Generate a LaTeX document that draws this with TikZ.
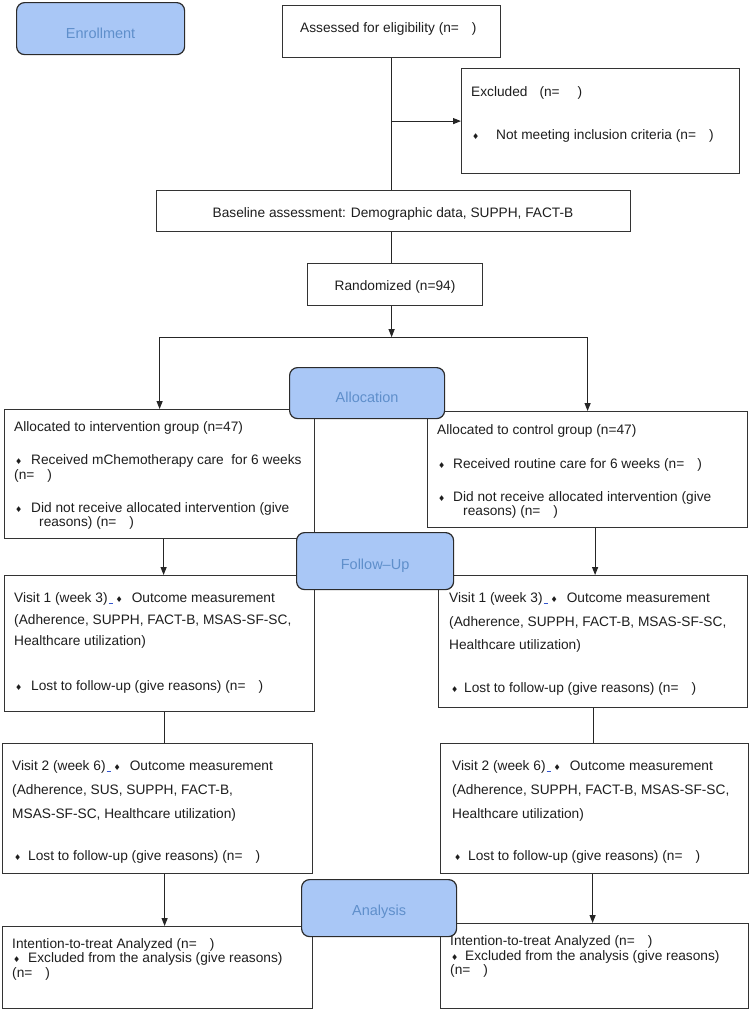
\documentclass[tikz,border=0pt]{standalone}
\usepackage{fontspec}
\setmainfont{Liberation Sans}
\newfontfamily\dejavu{DejaVu Sans}
\usetikzlibrary{arrows.meta}
\definecolor{stagefill}{HTML}{A9C7F6}
\definecolor{stagetext}{HTML}{5F8FCB}
\definecolor{stageline}{HTML}{2B2B2B}
\definecolor{boxline}{HTML}{333333}
\definecolor{linkblue}{HTML}{3355CC}
\definecolor{txtc}{HTML}{1E1E1E}
\newcommand{\bul}{{\dejavu\fontsize{8}{8}\selectfont ♦}}
\newcommand{\gapn}{\hspace{13pt}}
\newcommand{\lnk}{\textcolor{linkblue}{\rule[-2pt]{4pt}{0.7pt}}}
\newcommand{\vmark}{\hspace{1pt}\lnk\hspace{3pt}\bul\hspace{9pt}}
\newcommand{\stagetxt}[2]{\raisebox{-#1}[0pt][0pt]{#2}}
\begin{document}
\begin{tikzpicture}[x=1pt,y=-1pt,
 box/.style={draw=boxline,line width=1.2pt,fill=white,inner sep=0pt,anchor=north west},
 stage/.style={draw=stageline,line width=1.2pt,fill=stagefill,rounded corners=8pt,inner sep=0pt,anchor=north west,text=stagetext,font=\fontsize{14.5}{16}\selectfont},
 txt/.style={anchor=base west,inner sep=0pt,font=\fontsize{13.7}{16}\selectfont,text=txtc},
 ctxt/.style={anchor=base,inner sep=0pt,font=\fontsize{13.7}{16}\selectfont,text=txtc},
 bl/.style={anchor=base west,inner sep=0pt,text=txtc,font=\dejavu\fontsize{8}{8}\selectfont},
 conn/.style={draw=black!85,line width=1.1pt},
 arr/.style={conn,-{Triangle[length=8pt,width=6pt]}},
]
\useasboundingbox (0,0) rectangle (749,1010);
\fill[white] (0,0) rectangle (749,1010);

% boxes
\node[box,minimum width=218pt,minimum height=52pt] (assess) at (282,5) {};
\node[box,minimum width=278pt,minimum height=105pt] (excl) at (461,68) {};
\node[box,minimum width=474pt,minimum height=41pt] (base) at (156,190) {};
\node[box,minimum width=175pt,minimum height=42pt] (rand) at (307,263) {};
\node[box,minimum width=310pt,minimum height=129pt] (int) at (4,409) {};
\node[box,minimum width=320pt,minimum height=116pt] (ctl) at (427,411) {};
\node[box,minimum width=310pt,minimum height=136pt] (v1l) at (4,575) {};
\node[box,minimum width=309pt,minimum height=132pt] (v1r) at (438,575) {};
\node[box,minimum width=310pt,minimum height=130pt] (v2l) at (2,743) {};
\node[box,minimum width=308pt,minimum height=130pt] (v2r) at (440,743) {};
\node[box,minimum width=310pt,minimum height=82pt] (fl) at (2,926) {};
\node[box,minimum width=308pt,minimum height=85pt] (fr) at (440,923) {};

% connectors
\draw[conn] (assess.south) -- (assess.south |- base.north);
\coordinate (j1) at (assess.south |- excl.west);
\draw[arr] (j1) -- (excl.west);
\draw[conn] (assess.south |- base.south) -- (assess.south |- rand.north);
\coordinate (sp) at ([yshift=-31pt]assess.south |- rand.south);
\draw[arr] (assess.south |- rand.south) -- (sp);
\coordinate (spl) at (sp -| int.north);
\coordinate (spr) at (sp -| ctl.north);
\draw[conn] (spl) -- (spr);
\draw[arr] (spl) -- (int.north);
\draw[arr] (spr) -- (ctl.north);
\draw[arr] ([xshift=4pt]int.south) -- ([xshift=4pt]int.south |- v1l.north);
\draw[arr] ([xshift=2pt]v1r.north |- ctl.south) -- ([xshift=2pt]v1r.north);
\draw[conn] ([xshift=5pt]v1l.south) -- ([xshift=5pt]v1l.south |- v2l.north);
\draw[conn] (v1r.south) -- (v1r.south |- v2r.north);
\draw[arr] ([xshift=7pt]v2l.south) -- ([xshift=7pt]v2l.south |- fl.north);
\draw[arr] ([xshift=-2pt]v2r.south) -- ([xshift=-2pt]v2r.south |- fr.north);

% stage labels
\node[stage,minimum width=168pt,minimum height=52pt] (enroll) at (16,2) {\stagetxt{10pt}{Enrollment}};
\node[stage,minimum width=155pt,minimum height=51pt] (alloc) at (289,367) {\stagetxt{9.5pt}{Allocation}};
\node[stage,minimum width=157pt,minimum height=57pt] (follow) at (296,532) {\stagetxt{8pt}{Follow–Up}};
\node[stage,minimum width=155pt,minimum height=57pt] (anal) at (301,879) {\stagetxt{7pt}{Analysis}};

% texts
\node[txt] (ta1) at (300,32) {Assessed for eligibility (n=\gapn)};
\node[txt] (te1) at (471,96) {Excluded\hspace{12pt}(n=\hspace{18pt})};
\node[bl] (be1) at (472,139) {♦};
\node[txt] (te2) at (496,139) {Not meeting inclusion criteria (n=\gapn)};
\node[ctxt] (tb1) at (393,217) {Baseline assessment: Demographic data, SUPPH, FACT-B};
\node[ctxt] (tr1) at (395,290) {Randomized (n=94)};

\node[txt] (ti1) at (14,431) {Allocated to intervention group (n=47)};
\node[bl] (bi1) at (15,464) {♦};
\node[txt] (ti2) at (31,464) {Received mChemotherapy care\ \ for 6 weeks};
\node[txt] (ti3) at (14,479) {(n=\gapn)};
\node[bl] (bi2) at (15,512) {♦};
\node[txt] (ti4) at (31,512) {Did not receive allocated intervention (give};
\node[txt] (ti5) at (39,526) {reasons) (n=\gapn)};

\node[txt] (tc1) at (437,434) {Allocated to control group (n=47)};
\node[bl] (bc1) at (438,468) {♦};
\node[txt] (tc2) at (453,468) {Received routine care for 6 weeks (n=\gapn)};
\node[bl] (bc2) at (438,501) {♦};
\node[txt] (tc3) at (453,501) {Did not receive allocated intervention (give};
\node[txt] (tc4) at (463,515) {reasons) (n=\gapn)};

\node[txt] (tv1) at (14,602) {Visit 1 (week 3)\vmark Outcome measurement};
\node[txt] (tv2) at (14,624) {(Adherence, SUPPH, FACT-B, MSAS-SF-SC,};
\node[txt] (tv3) at (14,645) {Healthcare utilization)};
\node[bl] (bv1) at (15,690) {♦};
\node[txt] (tv4) at (31,690) {Lost to follow-up (give reasons) (n=\gapn)};

\node[txt] (tw1) at (449,602) {Visit 1 (week 3)\vmark Outcome measurement};
\node[txt] (tw2) at (449,626) {(Adherence, SUPPH, FACT-B, MSAS-SF-SC,};
\node[txt] (tw3) at (449,649) {Healthcare utilization)};
\node[bl] (bw1) at (451,692) {♦};
\node[txt] (tw4) at (464,692) {Lost to follow-up (give reasons) (n=\gapn)};

\node[txt] (tx1) at (12,770) {Visit 2 (week 6)\vmark Outcome measurement};
\node[txt] (tx2) at (12,794) {(Adherence, SUS, SUPPH, FACT-B,};
\node[txt] (tx3) at (12,818) {MSAS-SF-SC, Healthcare utilization)};
\node[bl] (bx1) at (14,860) {♦};
\node[txt] (tx4) at (28,860) {Lost to follow-up (give reasons) (n=\gapn)};

\node[txt] (ty1) at (452,770) {Visit 2 (week 6)\vmark Outcome measurement};
\node[txt] (ty2) at (452,794) {(Adherence, SUPPH, FACT-B, MSAS-SF-SC,};
\node[txt] (ty3) at (452,818) {Healthcare utilization)};
\node[bl] (by1) at (454,860) {♦};
\node[txt] (ty4) at (468,860) {Lost to follow-up (give reasons) (n=\gapn)};

\node[txt] (tf1) at (12,948) {Intention-to-treat Analyzed (n=\gapn)};
\node[bl] (bf1) at (13,962) {♦};
\node[txt] (tf2) at (28,962) {Excluded from the analysis (give reasons)};
\node[txt] (tf3) at (12,977) {(n=\gapn)};

\node[txt] (tg1) at (450,945) {Intention-to-treat Analyzed (n=\gapn)};
\node[bl] (bg1) at (451,960) {♦};
\node[txt] (tg2) at (465,960) {Excluded from the analysis (give reasons)};
\node[txt] (tg3) at (450,974) {(n=\gapn)};
\end{tikzpicture}
\end{document}
